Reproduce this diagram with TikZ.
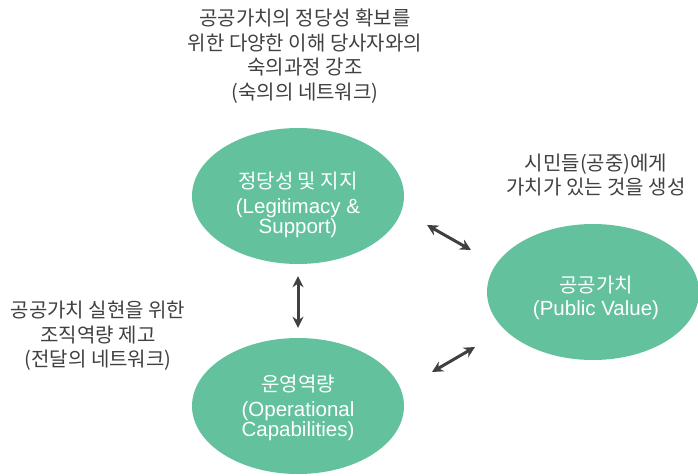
\documentclass[tikz,border=0pt]{standalone}
\usepackage{fontspec}
\setmainfont{Liberation Sans}
\newfontfamily\kr{Noto Sans CJK KR}
\usetikzlibrary{shapes.geometric,arrows.meta}
\definecolor{ellgreen}{RGB}{99,194,157}
\definecolor{txtgray}{RGB}{64,64,64}
\tikzset{
  ell/.style={ellipse, fill=ellgreen, draw=none, minimum width=212pt, minimum height=136pt, inner sep=0pt},
  intext/.style={text=white, align=center, inner sep=0pt},
  note/.style={text=txtgray, align=center, inner sep=0pt, font=\kr\fontsize{20pt}{24.5pt}\selectfont},
  dbl/.style={draw=txtgray, line width=3pt, {Stealth[length=11pt,width=11pt]}-{Stealth[length=11pt,width=11pt]}}
}
\newcommand{\enl}{\fontsize{20.5pt}{20pt}\selectfont}
\newcommand{\krl}{\kr\fontsize{20pt}{20pt}\selectfont}
\begin{document}
\begin{tikzpicture}[x=1pt,y=-1pt]
\useasboundingbox (0,0) rectangle (698,475);
\node[ell] (leg) at (298,196) {};
\node[ell] (ops) at (298,406) {};
\node[ell] (pv) at (593,292) {};
\node[intext] (legtext) at (298,205) {{\krl 정당성 및 지지}\\[8pt]{\enl (Legitimacy \&}\\[0pt]{\enl Support)}};
\node[intext] (opstext) at (298,408) {{\krl 운영역량}\\[8pt]{\enl (Operational}\\[0pt]{\enl Capabilities)}};
\node[intext] (pvtext) at (596,298) {{\krl 공공가치}\\[5pt]{\enl (Public Value)}};
\node[note] (topnote) at (305,56) {공공가치의 정당성 확보를\\위한 다양한 이해 당사자와의\\숙의과정 강조\\(숙의의 네트워크)};
\node[note] (leftnote) at (98,336) {공공가치 실현을 위한\\조직역량 제고\\(전달의 네트워크)};
\node[note] (rightnote) at (596,175) {시민들(공중)에게\\가치가 있는 것을 생성};
\coordinate (u1) at (427,225);
\coordinate (u2) at (471,250);
\coordinate (l1) at (432,372);
\coordinate (l2) at (475,347);
\draw[dbl] (u1) -- (u2);
\draw[dbl] (l1) -- (l2);
\draw[dbl, shorten <=12pt, shorten >=10pt] (leg.south) -- (ops.north);
\end{tikzpicture}
\end{document}
